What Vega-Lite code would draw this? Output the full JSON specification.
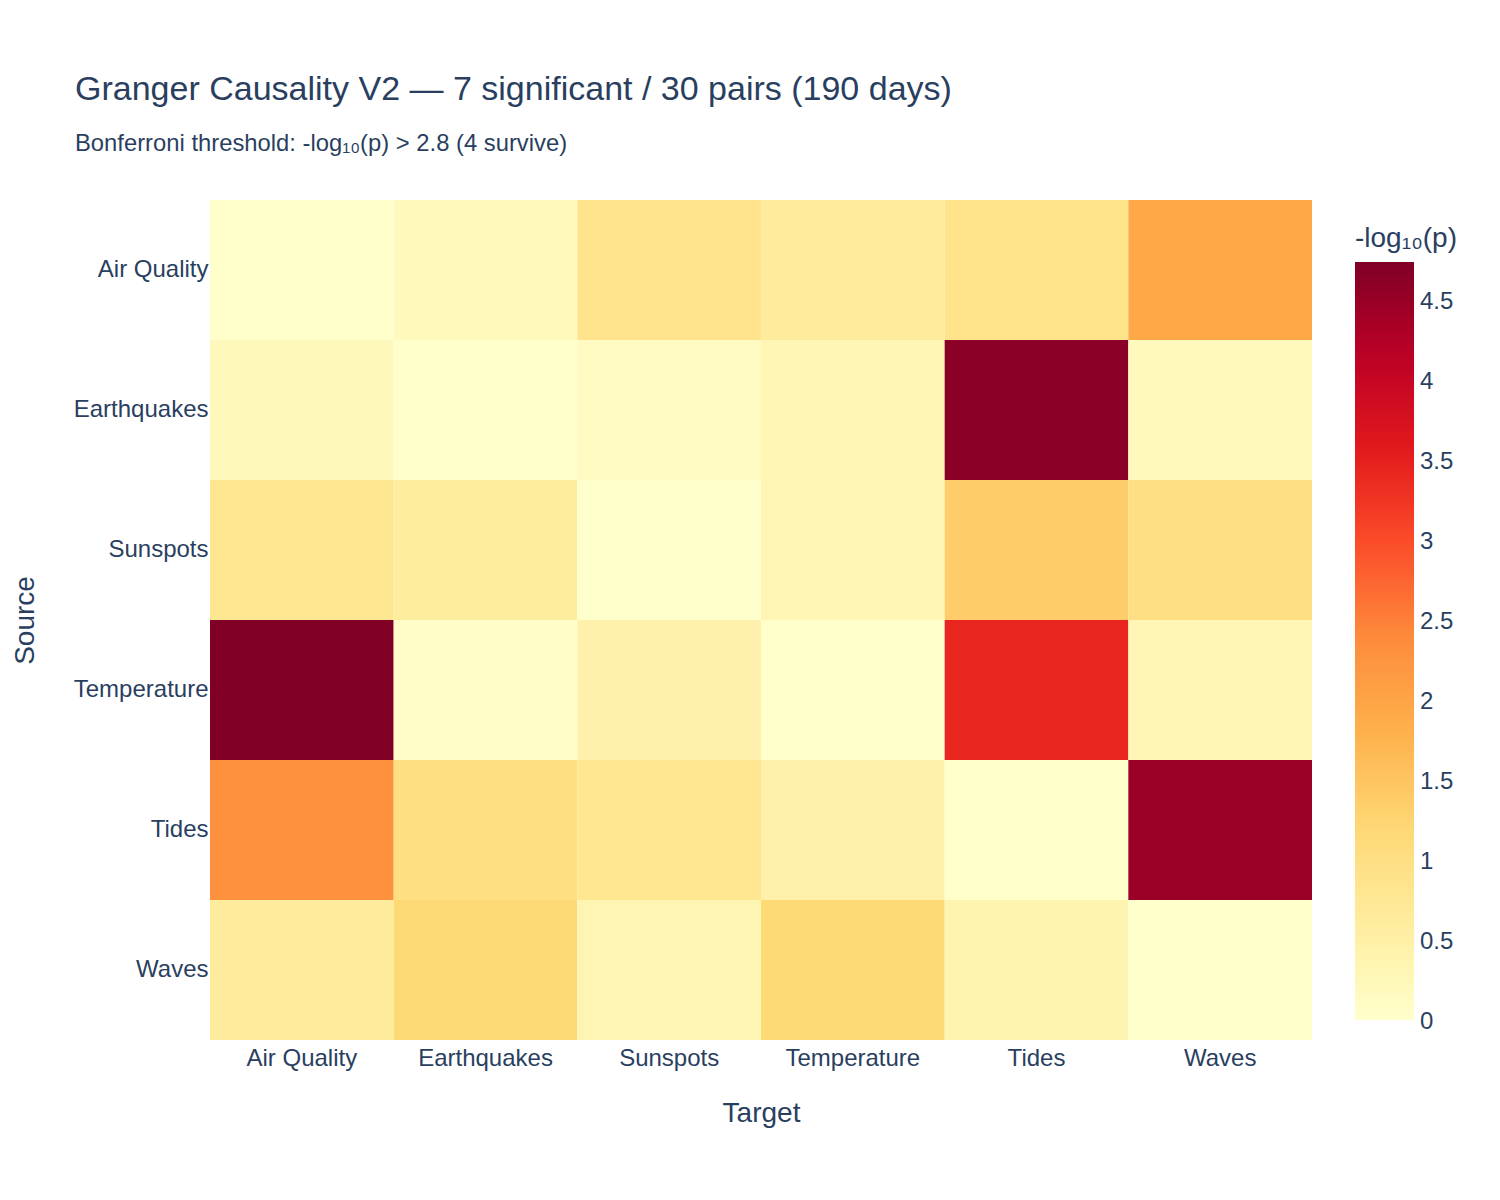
{
  "$schema": "https://vega.github.io/schema/vega-lite/v6.json",
  "width": 1102,
  "height": 840,
  "autosize": {"type": "none"},
  "padding": {"left": 210, "top": 200, "right": 188, "bottom": 160},
  "background": "white",
  "config": {
    "view": {"stroke": null},
    "font": "Liberation Sans"
  },
  "title": {
    "text": "Granger Causality V2 — 7 significant / 30 pairs (190 days)",
    "subtitle": "Bonferroni threshold: -log₁₀(p) > 2.8 (4 survive)",
    "anchor": "start",
    "frame": "group",
    "dx": -135,
    "offset": 44,
    "fontSize": 34,
    "subtitleFontSize": 23.8,
    "font": "Liberation Sans",
    "subtitleFont": "Liberation Sans",
    "fontWeight": "normal",
    "color": "#2a3f5f",
    "subtitleColor": "#2a3f5f",
    "subtitlePadding": 25
  },
  "data": {
    "values": [
      {"source": "Air Quality", "target": "Air Quality", "value": 0.0},
      {"source": "Air Quality", "target": "Earthquakes", "value": 0.2},
      {"source": "Air Quality", "target": "Sunspots", "value": 0.86},
      {"source": "Air Quality", "target": "Temperature", "value": 0.65},
      {"source": "Air Quality", "target": "Tides", "value": 0.9},
      {"source": "Air Quality", "target": "Waves", "value": 1.94},
      {"source": "Earthquakes", "target": "Air Quality", "value": 0.22},
      {"source": "Earthquakes", "target": "Earthquakes", "value": 0.0},
      {"source": "Earthquakes", "target": "Sunspots", "value": 0.15},
      {"source": "Earthquakes", "target": "Temperature", "value": 0.3},
      {"source": "Earthquakes", "target": "Tides", "value": 4.64},
      {"source": "Earthquakes", "target": "Waves", "value": 0.2},
      {"source": "Sunspots", "target": "Air Quality", "value": 0.8},
      {"source": "Sunspots", "target": "Earthquakes", "value": 0.6},
      {"source": "Sunspots", "target": "Sunspots", "value": 0.0},
      {"source": "Sunspots", "target": "Temperature", "value": 0.3},
      {"source": "Sunspots", "target": "Tides", "value": 1.37},
      {"source": "Sunspots", "target": "Waves", "value": 1.0},
      {"source": "Temperature", "target": "Air Quality", "value": 4.74},
      {"source": "Temperature", "target": "Earthquakes", "value": 0.05},
      {"source": "Temperature", "target": "Sunspots", "value": 0.45},
      {"source": "Temperature", "target": "Temperature", "value": 0.0},
      {"source": "Temperature", "target": "Tides", "value": 3.43},
      {"source": "Temperature", "target": "Waves", "value": 0.3},
      {"source": "Tides", "target": "Air Quality", "value": 2.31},
      {"source": "Tides", "target": "Earthquakes", "value": 1.01},
      {"source": "Tides", "target": "Sunspots", "value": 0.8},
      {"source": "Tides", "target": "Temperature", "value": 0.45},
      {"source": "Tides", "target": "Tides", "value": 0.0},
      {"source": "Tides", "target": "Waves", "value": 4.48},
      {"source": "Waves", "target": "Air Quality", "value": 0.65},
      {"source": "Waves", "target": "Earthquakes", "value": 1.17},
      {"source": "Waves", "target": "Sunspots", "value": 0.33},
      {"source": "Waves", "target": "Temperature", "value": 1.17},
      {"source": "Waves", "target": "Tides", "value": 0.38},
      {"source": "Waves", "target": "Waves", "value": 0.0}
    ]
  },
  "mark": {"type": "rect"},
  "encoding": {
    "x": {
      "field": "target",
      "type": "nominal",
      "sort": ["Air Quality", "Earthquakes", "Sunspots", "Temperature", "Tides", "Waves"],
      "scale": {"paddingInner": 0, "paddingOuter": 0},
      "axis": {
        "title": "Target",
        "labelAngle": 0,
        "labelFontSize": 24,
        "labelColor": "#2a3f5f",
        "labelPadding": 6,
        "titleFontSize": 28,
        "titleFontWeight": "normal",
        "titleColor": "#2a3f5f",
        "titlePadding": 29,
        "domain": false,
        "ticks": false
      }
    },
    "y": {
      "field": "source",
      "type": "nominal",
      "sort": ["Air Quality", "Earthquakes", "Sunspots", "Temperature", "Tides", "Waves"],
      "scale": {"paddingInner": 0, "paddingOuter": 0},
      "axis": {
        "title": "Source",
        "labelFontSize": 24,
        "labelColor": "#2a3f5f",
        "labelPadding": 2,
        "titleFontSize": 28,
        "titleFontWeight": "normal",
        "titleColor": "#2a3f5f",
        "titlePadding": 34,
        "domain": false,
        "ticks": false
      }
    },
    "color": {
      "field": "value",
      "type": "quantitative",
      "scale": {
        "domain": [0, 0.5925, 1.185, 1.7775, 2.37, 2.9625, 3.555, 4.1475, 4.74],
        "range": ["#ffffcc", "#ffeda0", "#fed976", "#feb24c", "#fd8d3c", "#fc4e2a", "#e31a1c", "#bd0026", "#800026"],
        "interpolate": "rgb"
      },
      "legend": {
        "title": "-log₁₀(p)",
        "orient": "none",
        "legendX": 1145,
        "legendY": 25,
        "direction": "vertical",
        "gradientLength": 758,
        "gradientThickness": 59,
        "gradientStrokeWidth": 0,
        "values": [0, 0.5, 1, 1.5, 2, 2.5, 3, 3.5, 4, 4.5],
        "format": "~g",
        "labelOverlap": false,
        "labelFontSize": 24,
        "labelColor": "#2a3f5f",
        "labelOffset": 6,
        "titleFontSize": 28,
        "titleFontWeight": "normal",
        "titleColor": "#2a3f5f",
        "titlePadding": 9,
        "encode": {
          "labels": {
            "update": {
              "baseline": {"value": "middle"},
              "dy": {"value": 2}
            }
          }
        }
      }
    }
  }
}
